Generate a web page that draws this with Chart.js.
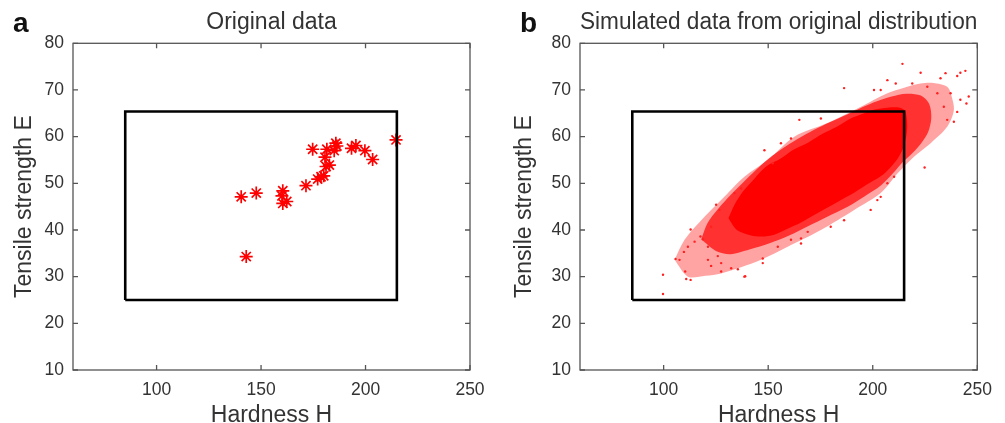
<!DOCTYPE html>
<html lang="en">
<head>
<meta charset="UTF-8">
<title>Hardness vs tensile strength</title>
<script src="https://cdn.jsdelivr.net/npm/chart.js"></script>
<style>
    body { margin: 0; background: #fff; width: 1005px; height: 423px; overflow: hidden; }
    .panel { position: absolute; top: 0; }
    .tag { position: absolute; font: bold 28px "Liberation Sans", Arial, sans-serif; line-height: 28px; color: #111; }
</style>
</head>
<body>
<div class="panel" style="left:0"><canvas id="chartA" width="500" height="423"></canvas></div>
<div class="panel" style="left:500px"><canvas id="chartB" width="505" height="423"></canvas></div>
<div class="tag" style="left:13px; top:9px">a</div>
<div class="tag" style="left:520px; top:9px">b</div>

<script>
// axes
const xTicks = [100, 150, 200, 250];
const yTicks = [10, 20, 30, 40, 50, 60, 70, 80];

// limits box
const boxH = [85, 85, 215, 215, 85];
const boxE = [25, 65.4, 65.4, 25, 25];

// panel a - original measurements
const origH = [140.5, 147.7, 160.4, 160.0, 160.4, 162.3, 142.9, 171.5, 174.7, 177.1, 178.7, 180.0,
    181.5, 180.6, 182.7, 181.1, 185.8, 186.3, 185.0, 193.3, 195.4, 199.7, 203.4, 214.6];
const origE = [47.1, 47.9, 48.4, 47.3, 45.7, 46.1, 34.3, 49.5, 57.3, 50.9, 51.4, 51.6,
    57.3, 55.6, 53.9, 53.6, 58.6, 58.0, 57.0, 57.5, 58.1, 57.0, 55.1, 59.3];

// panel b - simulated cloud, outlines
const coreH = [131, 135, 141.8, 147, 152.9, 159, 165.7, 172, 178.4, 185, 191.1, 197, 203.8, 208, 211.8, 214.5,
    216, 216.5, 215.5, 213, 207, 201, 195.9, 189, 183, 176, 169, 162, 156, 149, 143.4, 138, 134, 131];
const coreE = [42.5, 40, 38.8, 38.6, 39.0, 40.2, 41.6, 43.2, 44.8, 46.5, 48.0, 49.7, 51.5, 53.2, 55.2, 57.5,
    60, 62.5, 65.5, 66.2, 66.2, 65.8, 65.0, 63.8, 62.2, 60.6, 58.7, 57.2, 55.3, 53.6, 51, 48.3, 45.5, 42.5];

const midH = [118, 125, 132, 141, 151, 160, 169, 178, 188, 196, 204, 210, 214.5, 219, 223, 226.5, 228, 227,
    223, 216, 209, 202, 195, 188, 180, 172, 164, 157, 150, 144, 138, 132, 126, 121, 118];
const midE = [38, 35.5, 34.8, 35.8, 37.2, 38.8, 40.8, 42.8, 45, 47.2, 49.6, 52.3, 54.6, 56.5, 58.5, 61, 64, 67,
    68.8, 69.2, 68.6, 67.6, 66.3, 64.8, 63.2, 61.5, 59.5, 57.5, 55.2, 52.8, 50.2, 47.5, 44.5, 41.5, 38];

const haloH = [105.2, 111.6, 120, 127.5, 137, 146.6, 159.3, 175.2, 191.1, 203.8, 211.8, 219.7, 227.7, 235.6,
    238.8, 237.5, 235.6, 229, 222.9, 215, 207, 194.3, 178.4, 162.5, 149.8, 138.6, 127.5, 118, 110, 105.2];
const haloE = [33.6, 30.0, 30.2, 30.7, 32, 33.6, 36.4, 40.0, 44.3, 47.9, 52.1, 55.7, 58.6, 62.1,
    65.7, 69, 70.7, 71.5, 71.4, 70.5, 69.3, 66.4, 62.9, 60.0, 55.0, 51.4, 46.4, 42.1, 37.9, 33.6];

const strayH = [99.7, 99.7, 105.7, 107.6, 110.3, 110.8, 112.9, 112.9, 109.7, 111.6, 114.8, 117.6, 118.8, 121.2,
    122.7, 127.5, 132.3, 135.5, 139, 147.4, 147.4, 127.5, 125.9, 121.2, 122.7, 125.1, 126.7, 133.9, 137.1,
    154.6, 160.9, 165.7, 168.9, 214.2, 222.9, 232.4, 234.8, 240.4, 241.9, 244.3, 245.9, 244.8, 241.9, 238.8,
    235.6, 224.8, 210.2, 211, 207, 203.8, 200.6, 218.9, 226.1, 230.9, 237.2, 234, 240.4, 164.9, 175.2, 156.1,
    160.9, 202.2, 199, 179.9, 186.3, 207, 165.7, 148.2, 152.2, 186.3, 203.8, 138.6];
const strayE = [30.4, 26.3, 33.8, 33.6, 31.1, 29.5, 29.3, 40.1, 35.3, 36.4, 37.5, 38.6, 38.0, 33.6,
    32.3, 31.1, 31.8, 31.6, 30.1, 32.9, 33.9, 32.9, 34.4, 36.4, 40.7, 45.4, 44.3, 47.9, 48.9,
    36.4, 37.9, 38.2, 39.6, 75.6, 73.7, 72.5, 73.6, 73.0, 73.7, 74.1, 68.6, 67.1, 67.9, 63.2,
    63.6, 53.4, 51.4, 71.4, 72.1, 70.0, 70.0, 71.4, 70.7, 69.3, 69.3, 66.4, 65.3, 63.6, 63.9, 58.6,
    59.6, 46.4, 44.3, 40.7, 42.1, 50.0, 37.1, 57.1, 54.3, 70.4, 47.1, 30.0];

const pts = (xs, ys) => xs.map((v, i) => ({ x: v, y: ys[i] }));

const txt = '#333';
const fam = '"Liberation Sans", Arial, Helvetica, sans-serif';

// MATLAB style frame with inward ticks on all four sides
const boxTicks = {
    id: 'boxTicks',
    afterDraw(chart) {
        const { ctx, chartArea: a, scales: { x, y } } = chart;
        ctx.save();
        ctx.strokeStyle = '#555';
        ctx.lineWidth = 1.3;
        ctx.strokeRect(a.left, a.top, a.right - a.left, a.bottom - a.top);
        ctx.beginPath();
        x.ticks.forEach(t => {
            const p = x.getPixelForValue(t.value);
            ctx.moveTo(p, a.bottom); ctx.lineTo(p, a.bottom - 5);
            ctx.moveTo(p, a.top); ctx.lineTo(p, a.top + 5);
        });
        y.ticks.forEach(t => {
            const p = y.getPixelForValue(t.value);
            ctx.moveTo(a.left, p); ctx.lineTo(a.left + 5, p);
            ctx.moveTo(a.right, p); ctx.lineTo(a.right - 5, p);
        });
        ctx.stroke();
        ctx.restore();
    }
};

function makeOptions(title, yWidth, rightPad) {
    return {
        responsive: false,
        animation: false,
        layout: { padding: { left: 0, right: rightPad, top: 0, bottom: 0 } },
        plugins: {
            legend: { display: false },
            tooltip: { enabled: false },
            title: {
                display: true,
                text: title,
                fullSize: false,
                color: txt,
                font: { family: fam, size: 23, weight: 'normal' },
                padding: { top: 8.4, bottom: 7.3 }
            }
        },
        scales: {
            x: {
                type: 'linear',
                min: 60, max: 250,
                grid: { display: false, drawTicks: false },
                border: { display: false },
                afterBuildTicks: s => { s.ticks = xTicks.map(v => ({ value: v })); },
                afterFit: s => { s.height = 53; },
                ticks: { color: txt, padding: 9.5, maxRotation: 0, font: { family: fam, size: 17.5 } },
                title: {
                    display: true, text: 'Hardness H', color: txt,
                    font: { family: fam, size: 23, lineHeight: 0.6 }, padding: { top: 0, bottom: 0 }
                }
            },
            y: {
                type: 'linear',
                min: 10, max: 80,
                grid: { display: false, drawTicks: false },
                border: { display: false },
                afterBuildTicks: s => { s.ticks = yTicks.map(v => ({ value: v })); },
                afterFit: s => { s.width = yWidth; },
                ticks: { color: txt, padding: 9, font: { family: fam, size: 17.5 } },
                title: {
                    display: true, text: 'Tensile strength E', color: txt,
                    font: { family: fam, size: 23, lineHeight: 1 }, padding: { top: 13, bottom: 0 }
                }
            }
        }
    };
}

function boxSet() {
    return {
        data: pts(boxH, boxE), showLine: true, fill: false, order: 0,
        borderColor: '#000', borderWidth: 2.6, pointRadius: 0
    };
}

function areaSet(xs, ys, order, color) {
    return {
        data: pts(xs, ys), order: order, showLine: true, fill: 'shape', tension: 0.3,
        borderWidth: 0, pointRadius: 0, borderColor: 'rgba(0,0,0,0)', backgroundColor: color
    };
}

new Chart(document.getElementById('chartA'), {
    type: 'scatter',
    data: {
        datasets: [
            boxSet(),
            {
                data: pts(origH, origE), order: 1,
                pointStyle: 'star', pointRadius: 6.5, borderWidth: 1.7,
                borderColor: '#ff0000', backgroundColor: '#ff0000'
            }
        ]
    },
    options: makeOptions('Original data', 73, 30),
    plugins: [boxTicks]
});

new Chart(document.getElementById('chartB'), {
    type: 'scatter',
    data: {
        datasets: [
            boxSet(),
            {
                data: pts(strayH, strayE), order: 1,
                pointRadius: 1.2, borderWidth: 0, backgroundColor: '#ff2020'
            },
            areaSet(coreH, coreE, 2, '#ff0000'),
            areaSet(midH, midE, 3, 'rgba(255,0,0,0.7)'),
            areaSet(haloH, haloE, 4, 'rgba(255,0,0,0.36)')
        ]
    },
    options: makeOptions('Simulated data from original distribution', 80, 27.7),
    plugins: [boxTicks]
});
</script>
</body>
</html>
